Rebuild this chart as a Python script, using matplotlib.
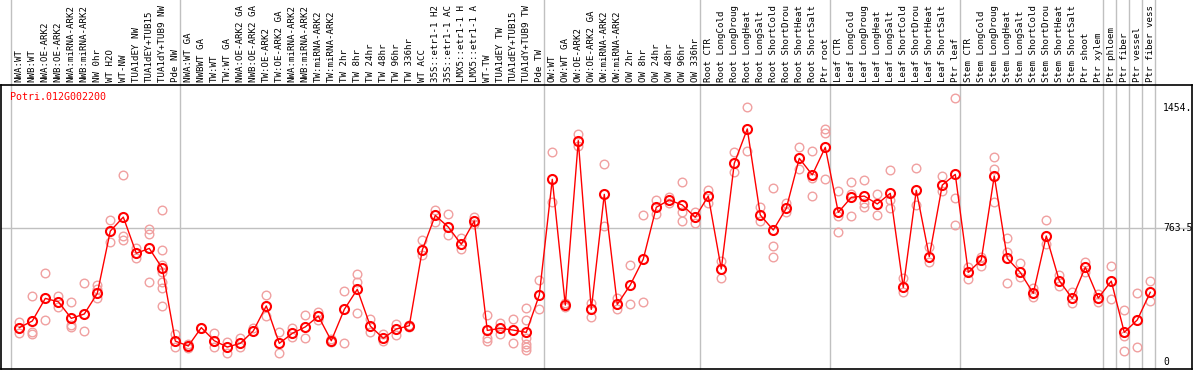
import matplotlib
matplotlib.use('Agg')
import matplotlib.pyplot as plt
import matplotlib.transforms as mtransforms

# sample names, cut to 14 characters as in the original chart
labels = ['NWA:WT', 'NWB:WT', 'NWA:OE-ARK2', 'NWB:OE-ARK2', 'NWA:miRNA-ARK2', 'NWB:miRNA-ARK2',
          'NW 0hr', 'WT H2O', 'WT-NW', 'TUA1dEY NW', 'TUA1dEY+TUB15', 'TUA1dY+TUB9 NW', 'Pde NW',
          'NWA:WT GA', 'NWBWT GA', 'TW:WT', 'TW:WT GA', 'NWA:OE-ARK2 GA', 'NWB:OE-ARK2 GA',
          'TW:OE-ARK2', 'TW:OE-ARK2 GA', 'NWA:miRNA-ARK2', 'NWB:miRNA-ARK2', 'TW:miRNA-ARK2',
          'TW:miRNA-ARK2', 'TW 2hr', 'TW 8hr', 'TW 24hr', 'TW 48hr', 'TW 96hr', 'TW 336hr',
          'WT ACC', '35S::etr1-1 H2', '35S::etr1-1 AC', 'LMX5::etr1-1 H', 'LMX5::etr1-1 A',
          'WT-TW', 'TUA1dEY TW', 'TUA1dEY+TUB15', 'TUA1dY+TUB9 TW', 'Pde TW',
          'OW:WT', 'OW:WT GA', 'OW:OE-ARK2', 'OW:OE-ARK2 GA', 'OW:miRNA-ARK2', 'OW:miRNA-ARK2',
          'OW 2hr', 'OW 8hr', 'OW 24hr', 'OW 48hr', 'OW 96hr', 'OW 336hr',
          'Root CTR', 'Root LongCold', 'Root LongDroug', 'Root LongHeat', 'Root LongSalt',
          'Root ShortCold', 'Root ShortDrou', 'Root ShortHeat', 'Root ShortSalt', 'Ptr root',
          'Leaf CTR', 'Leaf LongCold', 'Leaf LongDroug', 'Leaf LongHeat', 'Leaf LongSalt',
          'Leaf ShortCold', 'Leaf ShortDrou', 'Leaf ShortHeat', 'Leaf ShortSalt', 'Ptr leaf',
          'Stem CTR', 'Stem LongCold', 'Stem LongDroug', 'Stem LongHeat', 'Stem LongSalt',
          'Stem ShortCold', 'Stem ShortDrou', 'Stem ShortHeat', 'Stem ShortSalt', 'Ptr shoot',
          'Ptr xylem', 'Ptr phloem', 'Ptr fiber', 'Ptr vessel', 'Ptr fiber vess']

group_sizes = [13, 28, 12, 10, 10, 11, 1, 1, 1, 1]

# mean expression per sample
means = [196, 234, 363, 344, 249, 274, 392, 748, 828, 621, 649, 535, 119,
         91, 196, 121, 85, 106, 177, 320, 106, 163, 200, 262, 121, 300, 415, 205, 135, 188, 207,
         640, 838, 771, 672, 806, 180, 192, 182, 169, 382,
         1044, 325, 1265, 300, 958, 329, 440, 588, 884, 926, 897, 827,
         948, 531, 1135, 1332, 840, 754, 878, 1164, 1069, 1227,
         855, 941, 948, 903, 964, 426, 981, 602, 1011, 1072,
         512, 583, 1063, 592, 512, 392, 720, 464, 363, 541, 365,
         462, 169, 240, 398]

# individual replicates
reps = [[226, 163, 196], [375, 173, 158], [506, 240], [379, 316], [341, 211, 198], [449, 178],
        [440, 417, 363], [811, 687], [1069, 722, 697], [649, 592], [760, 729, 455],
        [867, 640, 554, 516, 455, 420, 320], [158, 83],
        [100, 77], [192], [163, 83], [112, 53], [135, 83], [192], [382, 262], [173, 53],
        [192, 144], [268, 135], [283, 240], [131, 116], [405, 106], [501, 455, 281],
        [243, 169], [158, 119], [215, 154], [211, 201],
        [697, 611], [868, 798], [844, 726], [707, 644], [830, 786], [268, 139, 119],
        [224, 158], [243, 106], [306, 238, 139, 100, 87, 68], [468, 300],
        [1198, 912], [335, 316], [1301, 1236], [335, 259], [1130, 779], [363, 300],
        [552, 329], [840, 341], [926, 844], [945, 907], [1030, 855, 806], [859, 796],
        [983, 907], [577, 482], [1198, 1084], [1456, 1206], [888, 808], [992, 661, 598],
        [907, 859], [1227, 1103], [1206, 1050, 948], [1330, 1307, 1044],
        [979, 836, 741], [1027, 958, 834], [1038, 907, 888], [958, 840], [1095, 926, 878],
        [478, 398], [1109, 897], [659, 569], [1063, 977], [1507, 935, 783],
        [544, 472], [602, 548], [1170, 1101, 912], [706, 630, 449], [567, 483], [420, 373],
        [811, 672], [497, 432], [401, 335], [573, 516], [386, 344],
        [550, 358], [295, 150, 62], [392, 83], [462, 348]]

yticks = [0, 763.5, 1454]
ytick_text = ['0', '763.5', '1454.']
gene = 'Potri.012G002200'

W, H = 1194, 370
fig = plt.figure(figsize=(W / 100, H / 100), dpi=100)
ax = fig.add_axes([1 / W, 1 / H, 1191 / W, 284 / H])
ax.set_xlim(-1.408, 90.21)
ax.set_ylim(-40.6, 1583.2)
ax.set_xticks([])
ax.set_yticks([])
for s in ax.spines.values():
    s.set_color('black')
    s.set_linewidth(1.2)

# separators between groups, running up through the header
edges = [0]
for g in group_sizes:
    edges.append(edges[-1] + g)
for e in edges:
    ax.axvline(e - 0.64, 0, 1.31, color='#c0c0c0', lw=1, clip_on=False, zorder=0)
ax.axhline(yticks[1], color='#c0c0c0', lw=1, zorder=0)

xs = list(range(len(means)))
for i, r in enumerate(reps):
    ax.plot([i] * len(r), r, 'o', ms=6.2, mfc='none', mec='#f0a0a0', mew=1.0, zorder=2)
ax.plot(xs, means, '-', color='red', lw=1.0, zorder=3)
ax.plot(xs, means, 'o', ms=6.5, mfc='none', mec='red', mew=1.5, zorder=4)

mono = 'DejaVu Sans Mono'
trans = mtransforms.blended_transform_factory(ax.transData, ax.transAxes)
for i, lab in enumerate(labels):
    ax.text(i, (369 - 82) / 284, lab, rotation=90, ha='center', va='bottom',
            fontsize=6.6, family=mono, transform=trans, clip_on=False)

for v, t in zip(yticks, ytick_text):
    ax.text((1163 - 1) / 1191, v, t, ha='left', va='center', fontsize=7, family=mono,
            transform=mtransforms.blended_transform_factory(ax.transAxes, ax.transData))

ax.text((10 - 1) / 1191, (369 - 97) / 284, gene, color='red', ha='left', va='center',
        fontsize=7.2, family=mono, transform=ax.transAxes)

fig.savefig('out.png', dpi=100)
